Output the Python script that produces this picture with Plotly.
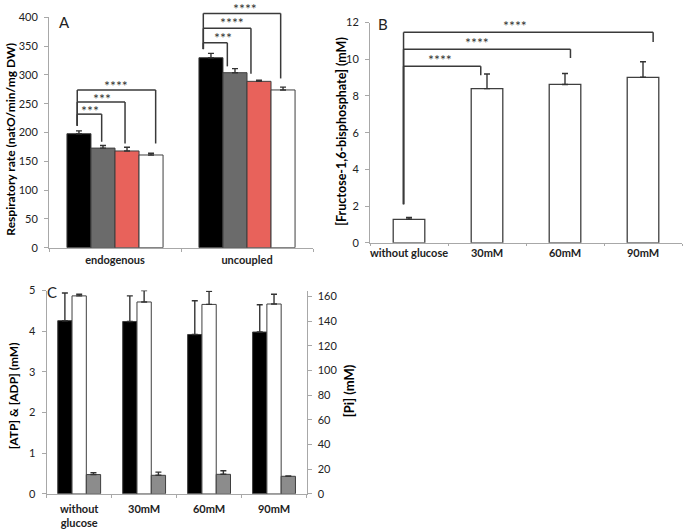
import plotly.graph_objects as go

# ---------------- Panel A data ----------------
a_categories = ["endogenous", "uncoupled"]
a_black = [198, 330]
a_black_err = [5, 7.5]
a_gray = [173, 304]
a_gray_err = [4.5, 7]
a_red = [168, 289]
a_red_err = [6.5, 2]
a_white = [161, 274]
a_white_err = [3, 5]
a_yticks = [0, 50, 100, 150, 200, 250, 300, 350, 400]

# ---------------- Panel B data ----------------
b_categories = ["without glucose", "30mM", "60mM", "90mM"]
b_values = [1.28, 8.40, 8.63, 9.02]
b_err = [0.1, 0.8, 0.6, 0.85]
b_yticks = [0, 2, 4, 6, 8, 10, 12]

# ---------------- Panel C data ----------------
c_categories = ["without<br>glucose", "30mM", "60mM", "90mM"]
c_atp = [4.26, 4.24, 3.92, 3.98]
c_atp_err = [0.68, 0.63, 0.83, 0.67]
c_adp = [4.87, 4.72, 4.66, 4.67]
c_adp_err = [0.04, 0.28, 0.32, 0.24]
c_pi = [15.6, 15.0, 15.8, 14.2]
c_pi_err = [1.6, 2.6, 2.9, 0.3]
c_left_ticks = [0, 1, 2, 3, 4, 5]
c_right_ticks = [0, 20, 40, 60, 80, 100, 120, 140, 160]

# significance brackets: (x_left, x_right, height, left_bottom, right_bottom, label, label_x, label_y)
a_brackets = [
    (-0.286, -0.101, 232, 212, 184, "***", -0.19, 238),
    (-0.286, 0.076, 253, 212, 181, "***", -0.10, 260),
    (-0.286, 0.308, 274, 212, 181, "****", 0.01, 282),
    (0.669, 0.851, 356, 345, 315, "***", 0.818, 366),
    (0.669, 1.030, 381, 345, 302, "****", 0.884, 392),
    (0.669, 1.255, 407, 345, 294, "****", 0.985, 416),
]
b_brackets = [
    (-0.07, 0.92, 9.62, 2.1, 9.13, "****", 0.40, 10.0),
    (-0.07, 2.07, 10.55, 2.1, 10.07, "****", 0.87, 10.92),
    (-0.07, 3.13, 11.47, 2.1, 10.95, "****", 1.36, 11.84),
]

W, H = 683, 532
FONT = "Lato, 'Open Sans', sans-serif"
OUTLINE = "#3f3f3f"
AXCOL = "#a8a8a8"
TXT = "#222222"

def px_x(p):
    return p / W

def px_y(p):
    return 1 - p / H

A_X = [px_x(49), px_x(313)]
A_Y = [px_y(246.7), px_y(10.7)]
B_X = [px_x(370), px_x(682)]
B_Y = [px_y(241.7), px_y(16)]
C_X = [px_x(46.7), px_x(306.5)]
C_Y = [px_y(499), px_y(290.7)]

A_MAX = 400
B_MAX = 12
C_MAX = 5
C2_MAX = 160 * (499 - 290.7) / (499 - 296.7)

fig = go.Figure()

def errs(arr, n):
    return dict(type="data", array=arr, symmetric=False, arrayminus=[0] * n,
                color="#333333", thickness=1.4, width=3)

# Panel A bars
a_width = 0.182
for vals, err, col, off in [
    (a_black, a_black_err, "#000000", -0.364),
    (a_gray, a_gray_err, "#6b6b6b", -0.182),
    (a_red, a_red_err, "#e8625b", 0.0),
    (a_white, a_white_err, "#ffffff", 0.182),
]:
    fig.add_trace(go.Bar(x=a_categories, y=vals, width=a_width, offset=off,
                         marker=dict(color=col, line=dict(color=OUTLINE, width=1)),
                         error_y=errs(err, len(vals)), xaxis="x", yaxis="y",
                         showlegend=False, hoverinfo="skip"))

# Panel B bars
fig.add_trace(go.Bar(x=b_categories, y=b_values, width=0.405,
                     marker=dict(color="#ffffff", line=dict(color=OUTLINE, width=1.3)),
                     error_y=errs(b_err, len(b_values)), xaxis="x2", yaxis="y2",
                     showlegend=False, hoverinfo="skip"))

# Panel C bars
c_width = 0.22
fig.add_trace(go.Bar(x=c_categories, y=c_atp, width=c_width, offset=-0.33,
                     marker=dict(color="#000000", line=dict(color=OUTLINE, width=1)),
                     error_y=errs(c_atp_err, 4), xaxis="x3", yaxis="y3",
                     showlegend=False, hoverinfo="skip"))
fig.add_trace(go.Bar(x=c_categories, y=c_adp, width=c_width, offset=-0.11,
                     marker=dict(color="#ffffff", line=dict(color=OUTLINE, width=1)),
                     error_y=errs(c_adp_err, 4), xaxis="x3", yaxis="y3",
                     showlegend=False, hoverinfo="skip"))
fig.add_trace(go.Bar(x=c_categories, y=c_pi, width=c_width, offset=0.11,
                     marker=dict(color="#8c8c8c", line=dict(color=OUTLINE, width=1)),
                     error_y=errs(c_pi_err, 4), xaxis="x3", yaxis="y4",
                     showlegend=False, hoverinfo="skip"))

shapes = []
annotations = []

def add_brackets(brackets, xd, yd, ncat, ymax):
    for xl, xr, h, lb, rb, lab, lx, ly in brackets:
        fx = lambda v: (v + 0.5) / ncat
        fy = lambda v: v / ymax
        line = dict(color="#3a3a3a", width=1.5)
        shapes.append(dict(type="line", xref=xd, yref=yd, x0=fx(xl), x1=fx(xl),
                           y0=fy(lb), y1=fy(h), line=line))
        shapes.append(dict(type="line", xref=xd, yref=yd, x0=fx(xl), x1=fx(xr),
                           y0=fy(h), y1=fy(h), line=line))
        shapes.append(dict(type="line", xref=xd, yref=yd, x0=fx(xr), x1=fx(xr),
                           y0=fy(h), y1=fy(rb), line=line))
        annotations.append(dict(xref=xd, yref=yd, x=fx(lx), y=fy(ly), text=lab,
                                showarrow=False, xanchor="center", yanchor="middle",
                                yshift=0, font=dict(family=FONT, size=14, color="#333333")))

add_brackets(a_brackets, "x domain", "y domain", len(a_categories), A_MAX)
add_brackets(b_brackets, "x2 domain", "y2 domain", len(b_categories), B_MAX)

def paper_text(text, x, y, size, angle=0, bold=False):
    annotations.append(dict(xref="paper", yref="paper", x=px_x(x), y=px_y(y),
                            text=text,
                            showarrow=False, xanchor="center", yanchor="middle",
                            textangle=angle,
                            font=dict(family=FONT, size=size,
                                      color="#000000" if bold else TXT,
                                      weight=700 if bold else 400)))

# panel letters
paper_text("A", 64, 15, 15)
paper_text("B", 383.5, 17, 15)
paper_text("C", 52, 292, 15)

# axis titles
paper_text("Respiratory rate (natO/min/mg DW)", 11, 136, 12, -90, True)
paper_text("[Fructose-1,6-bisphosphate] (mM)", 342, 128, 12.5, -90, True)
paper_text("[ATP] &amp; [ADP] (mM)", 13, 399, 12, -90, True)
paper_text("[Pi] (mM)", 349, 394, 13, -90, True)

tickfont = dict(family=FONT, size=11, color=TXT)
xtickfont = dict(family=FONT, size=11, color=TXT, weight="bold")

def xaxis(domain, anchor, ncat, standoff, ticklen=3):
    return dict(domain=domain, anchor=anchor, type="category",
                range=[-0.5, ncat - 0.5], showline=True, linecolor=AXCOL, linewidth=1,
                ticks="outside", tickson="boundaries", ticklen=ticklen, tickcolor=AXCOL,
                tickfont=xtickfont, tickangle=0, showgrid=False, zeroline=False,
                ticklabelstandoff=standoff, fixedrange=True)

def yaxis(domain, anchor, rng, tickvals, side="left", overlaying=None):
    d = dict(domain=domain, anchor=anchor, range=rng, tickvals=tickvals,
             showline=True, linecolor=AXCOL, linewidth=1, ticks="outside",
             ticklen=4, tickcolor=AXCOL, tickfont=tickfont, showgrid=False,
             zeroline=False, side=side, ticklabelstandoff=4, fixedrange=True)
    if overlaying:
        d["overlaying"] = overlaying
    return d

fig.update_layout(
    width=W, height=H,
    margin=dict(l=0, r=0, t=0, b=0),
    paper_bgcolor="white", plot_bgcolor="white",
    showlegend=False,
    barmode="group",
    xaxis=xaxis(A_X, "y", 2, 2),
    yaxis=yaxis(A_Y, "x", [0, A_MAX], a_yticks),
    xaxis2=xaxis(B_X, "y2", 4, 0, ticklen=2),
    yaxis2=yaxis(B_Y, "x2", [0, B_MAX], b_yticks),
    xaxis3=xaxis(C_X, "y3", 4, 5),
    yaxis3=yaxis(C_Y, "x3", [0, C_MAX], c_left_ticks),
    yaxis4=yaxis(C_Y, "x3", [0, C2_MAX], c_right_ticks, side="right", overlaying="y3"),
    shapes=shapes,
    annotations=annotations,
)

fig.write_html(
    "out.html",
    config={"displayModeBar": False},
    post_script="document.body.style.margin='0px';document.body.style.overflow='hidden';",
)
